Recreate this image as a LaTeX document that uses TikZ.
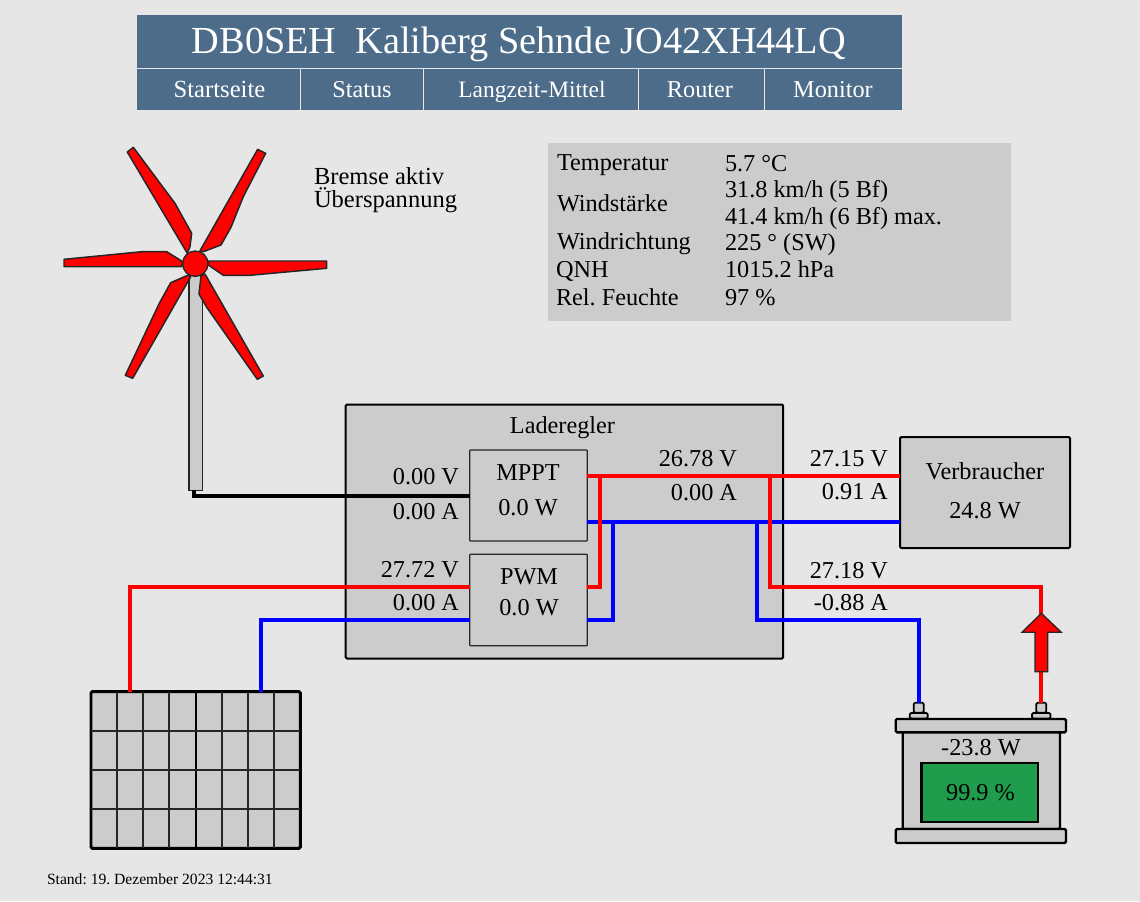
\documentclass[tikz,border=0pt]{standalone}
\usepackage{fontspec}
\setmainfont{Liberation Serif}
\frenchspacing
\definecolor{bg}{HTML}{E6E6E6}
\definecolor{panel}{HTML}{CCCCCC}
\definecolor{head}{HTML}{4D6C8A}
\definecolor{batgreen}{HTML}{1F9D4D}
\definecolor{wred}{HTML}{FF0000}
\definecolor{wblue}{HTML}{0000FF}
\tikzset{
  every node/.style={outer sep=0pt},
  lbl/.style={inner sep=0pt,font=\fontsize{18.2}{20}\selectfont,text=black},
  lblw/.style={lbl,anchor=base west},
  lble/.style={lbl,anchor=base east},
  lblc/.style={lbl,anchor=base},
  navt/.style={lblc,text=white},
  box/.style={draw=black,fill=panel,line width=1.5pt,rounded corners=1pt},
  thinbox/.style={draw=black!85,fill=panel,line width=0.9pt,rounded corners=0.5pt},
  redw/.style={draw=wred,line width=3pt,line join=miter},
  bluew/.style={draw=wblue,line width=3pt,line join=miter},
  blackw/.style={draw=black,line width=3pt,line join=miter},
  blade/.style={draw=black!85,fill=wred,line width=1.1pt,line join=round},
  bat/.style={draw=black,fill=panel,line width=1.8pt,rounded corners=1pt},
  cell/.style={draw=black!85,line width=1.4pt},
}
\begin{document}
\begin{tikzpicture}[x=0.75pt,y=-0.75pt]
\useasboundingbox (0,0) rectangle (1140,901);
\fill[bg] (0,0) rectangle (1140,901);
% header
\fill[head] (137,15) rectangle (902,67.5);
\fill[head] (137,69) rectangle (902,110);
\foreach \xs in {300.5,423.5,638.5,764.5}{\fill[bg] (\xs-0.7,69) rectangle (\xs+0.7,110);}
\node[navt,font=\fontsize{28.7}{30}\selectfont] (title) at (519,53) {DB0SEH\ \ Kaliberg Sehnde JO42XH44LQ};
\node[navt,font=\fontsize{18.5}{20}\selectfont] (n1) at (219.5,97) {Startseite};
\node[navt] (n2) at (362,97) {Status};
\node[navt,font=\fontsize{17.6}{20}\selectfont] (n3) at (532,97) {Langzeit-Mittel};
\node[navt] (n4) at (700,97) {Router};
\node[navt] (n5) at (833,97) {Monitor};
% info panel
\fill[panel] (548,143) rectangle (1011,321);
\node[lblw] at (557,170.5) {Temperatur};
\node[lblw] at (557,211) {Windstärke};
\node[lblw] at (557,249.5) {Windrichtung};
\node[lblw] at (556,277.5) {QNH};
\node[lblw] at (556,305) {Rel. Feuchte};
\node[lblw] at (725,171.5) {5.7 °C};
\node[lblw] at (725,197.5) {31.8 km/h (5 Bf)};
\node[lblw] at (725,224) {41.4 km/h (6 Bf) max.};
\node[lblw] at (725,250.5) {225 ° (SW)};
\node[lblw] at (725,277.5) {1015.2 hPa};
\node[lblw] at (725,305) {97 \%};
\node[lblw,font=\fontsize{18.4}{20}\selectfont] at (314,184) {Bremse aktiv};
\node[lblw,font=\fontsize{18.4}{20}\selectfont] at (314,207.5) {Überspannung};
% mast
\node[draw=black!85,fill=panel,line width=0.9pt,minimum width=13.3*0.75pt,minimum height=230*0.75pt,inner sep=0pt,anchor=south] (mast) at (195.7,490.5) {};
% Laderegler
\node[box,minimum width=437.5*0.75pt,minimum height=254*0.75pt,inner sep=0pt,anchor=north west] (ctrl) at (345.7,404.5) {};
\node[lblc] at (562.5,433) {Laderegler};
\node[box,minimum width=170*0.75pt,minimum height=111*0.75pt,inner sep=0pt,anchor=north west] (load) at (900,437) {};
\node[thinbox,minimum width=117.6*0.75pt,minimum height=91*0.75pt,inner sep=0pt,anchor=north west] (mppt) at (469.7,450) {};
\node[thinbox,minimum width=117.6*0.75pt,minimum height=91.4*0.75pt,inner sep=0pt,anchor=north west] (pwm) at (469.7,554.3) {};
\node[lblc] at (528,480) {MPPT};
\node[lblc] at (528,515) {0.0 W};
\node[lblc] at (529,584) {PWM};
\node[lblc] at (529,615) {0.0 W};
\node[lblc] at (985,479) {Verbraucher};
\node[lblc] at (985,518) {24.8 W};
% solar panel
\node[draw=black,fill=panel,line width=2.2pt,rounded corners=1pt,minimum width=209.3*0.75pt,minimum height=156.6*0.75pt,inner sep=0pt,anchor=north west] (solar) at (91,691.7) {};
\foreach \xs in {117.3,143.3,169.3,221.7,247.7,274.3}{\draw[cell] (\xs,691.7) -- (\xs,848.3);}
\draw[draw=black,line width=1.8pt] (195.7,691.7) -- (195.7,848.3);
\foreach \ys in {730.7,770,809}{\draw[cell] (91,\ys) -- (300.3,\ys);}
% battery
\node[bat,minimum width=157.3*0.75pt,minimum height=97*0.75pt,inner sep=0pt,anchor=north west] (batbody) at (902.7,732) {};
\node[bat,minimum width=170.3*0.75pt,minimum height=13.3*0.75pt,inner sep=0pt,anchor=north west] (battop) at (895.7,719) {};
\node[bat,minimum width=170.3*0.75pt,minimum height=14*0.75pt,inner sep=0pt,anchor=north west] (batbot) at (895.7,829) {};
\node[draw=black,fill=batgreen,line width=1.8pt,minimum width=116.4*0.75pt,minimum height=59*0.75pt,inner sep=0pt,anchor=north west] (soc) at (921.3,763) {};
\node[lblc] at (981,755) {-23.8 W};
\node[lblc] at (980.5,800) {99.9 \%};
% terminals
\node[bat,line width=1.3pt,minimum width=18*0.75pt,minimum height=5.5*0.75pt,inner sep=0pt,anchor=north] (tlb) at (918.7,713) {};
\node[bat,line width=1.3pt,minimum width=10*0.75pt,minimum height=10*0.75pt,inner sep=0pt,anchor=north] (tln) at (918.7,702.7) {};
\node[bat,line width=1.3pt,minimum width=18.4*0.75pt,minimum height=5.5*0.75pt,inner sep=0pt,anchor=north] (trb) at (1041.3,713) {};
\node[bat,line width=1.3pt,minimum width=10*0.75pt,minimum height=10*0.75pt,inner sep=0pt,anchor=north] (trn) at (1041.3,702.7) {};
% wires
\draw[blackw] (193.5,490) |- (mppt.west |- 0,495.7);
\draw[redw] (mppt.east |- 0,476) -- (load.west |- 0,476);
\draw[bluew] (mppt.east |- 0,521.7) -- (load.west |- 0,521.7);
\draw[redw] (pwm.east |- 0,586.7) -| (600.3,476);
\draw[bluew] (pwm.east |- 0,619.6) -| (613.3,521.7);
\draw[redw] (solar.north west -| 130,0) -- (130,586.7) -- (pwm.west |- 0,586.7);
\draw[bluew] (solar.north west -| 261,0) -- (261,619.6) -- (pwm.west |- 0,619.6);
\draw[redw] (770,476) |- (trn.north |- 0,586.7) -- (trn.north);
\draw[bluew] (756.7,521.7) |- (tln.north |- 0,620) -- (tln.north);
% current arrow
\draw[draw=black!85,fill=wred,line width=1pt,line join=miter] (1041.3,613.3) -- (1061.3,632.3) -- (1047.7,632.3) -- (1047.7,671.7) -- (1035,671.7) -- (1035,632.3) -- (1022,632.3) -- cycle;
% wire labels
\node[lble] at (459,484) {0.00 V};
\node[lble] at (459,519) {0.00 A};
\node[lble] at (459,577) {27.72 V};
\node[lble] at (459,610) {0.00 A};
\node[lble] at (737,466) {26.78 V};
\node[lble] at (737,500) {0.00 A};
\node[lble] at (888,466) {27.15 V};
\node[lble] at (888,499) {0.91 A};
\node[lble] at (888,578) {27.18 V};
\node[lble] at (888,610) {-0.88 A};
% rotor
\draw[blade] (208.3,261) -- (326.7,261) -- (326.7,268.3) -- (250,275.3) -- (223.3,275.3) -- (208.3,265) -- cycle;
\draw[blade] (182.7,261.7) -- (166.7,251.7) -- (141.7,251.7) -- (64,259.3) -- (64,266.7) -- (181.7,266.7) -- cycle;
\draw[blade] (127.3,152) -- (133.3,147.3) -- (175,203.3) -- (191.7,233.3) -- (190,246.7) -- (187.3,253.3) -- cycle;
\draw[blade] (257.7,149.3) -- (265.7,153.3) -- (243.3,196.7) -- (231,227.3) -- (221,245) -- (203.3,251.7) -- (200,250.7) -- cycle;
\draw[blade] (125.3,375.3) -- (132.7,378.3) -- (190.7,276.7) -- (188.3,275) -- (170.7,282.7) -- (159.3,303.3) -- cycle;
\draw[blade] (205,274) -- (263.3,376) -- (257.3,379.3) -- (206.7,307.3) -- (199,294) -- (201,276) -- cycle;
\node[circle,draw=black!85,fill=wred,line width=1pt,minimum size=25.4*0.75pt,inner sep=0pt] (hub) at (195.3,263.7) {};
% footer
\node[lblw,font=\fontsize{11.7}{13}\selectfont] at (47,884) {Stand: 19. Dezember 2023 12:44:31};
\end{tikzpicture}
\end{document}
